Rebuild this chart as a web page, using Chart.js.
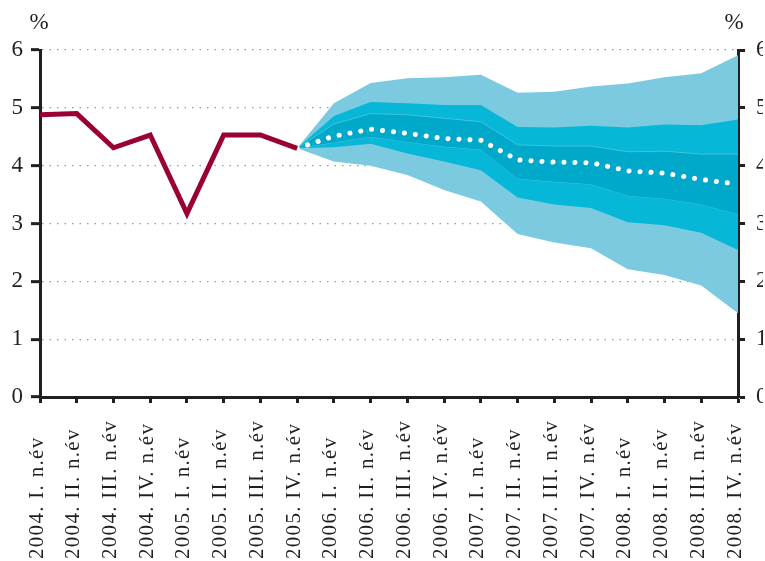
<!DOCTYPE html>
<html>
<head>
<meta charset="utf-8">
<script src="https://cdn.jsdelivr.net/npm/chart.js@4/dist/chart.umd.min.js"></script>
<style>
  html, body { margin: 0; padding: 0; background: #fff; overflow: hidden; }
  #wrap { position: relative; width: 765px; height: 561px; }
</style>
</head>
<body>
<div id="wrap"><canvas id="chart"></canvas></div>
<script>
// quarters on the x axis
const categories = [
    '2004. I. n.év', '2004. II. n.év', '2004. III. n.év', '2004. IV. n.év',
    '2005. I. n.év', '2005. II. n.év', '2005. III. n.év', '2005. IV. n.év',
    '2006. I. n.év', '2006. II. n.év', '2006. III. n.év', '2006. IV. n.év',
    '2007. I. n.év', '2007. II. n.év', '2007. III. n.év', '2007. IV. n.év',
    '2008. I. n.év', '2008. II. n.év', '2008. III. n.év', '2008. IV. n.év'
];
const yTicks = [0, 1, 2, 3, 4, 5, 6];

// actual data (%)
const actual = [4.88, 4.90, 4.31, 4.53, 3.17, 4.53, 4.53, 4.30,
    null, null, null, null, null, null, null, null, null, null, null, null];

// fan chart, starts at 2005 IV
const lead = [null, null, null, null, null, null, null];
const median      = lead.concat([4.30, 4.51, 4.63, 4.56, 4.47, 4.44, 4.10, 4.06, 4.05, 3.91, 3.87, 3.76, 3.68]);
const innerTop    = lead.concat([4.30, 4.72, 4.90, 4.88, 4.82, 4.76, 4.36, 4.34, 4.34, 4.24, 4.25, 4.20, 4.20]);
const innerBottom = lead.concat([4.30, 4.40, 4.50, 4.41, 4.33, 4.28, 3.78, 3.72, 3.68, 3.48, 3.43, 3.33, 3.16]);
const midTop      = lead.concat([4.30, 4.86, 5.10, 5.08, 5.05, 5.05, 4.67, 4.66, 4.69, 4.66, 4.71, 4.70, 4.80]);
const midBottom   = lead.concat([4.30, 4.32, 4.38, 4.21, 4.07, 3.92, 3.45, 3.33, 3.27, 3.02, 2.97, 2.84, 2.54]);
const outerTop    = lead.concat([4.30, 5.08, 5.43, 5.51, 5.53, 5.57, 5.26, 5.28, 5.37, 5.42, 5.53, 5.60, 5.91]);
const outerBottom = lead.concat([4.30, 4.07, 4.00, 3.84, 3.58, 3.38, 2.82, 2.67, 2.57, 2.21, 2.11, 1.93, 1.45]);

const INK = '#231f20';
const FONT = '"Liberation Serif", "Times New Roman", serif';

function band(data, fill, color, edge) {
    return {
        data: data,
        fill: fill,
        backgroundColor: color,
        borderColor: edge || 'rgba(0,0,0,0)',
        borderWidth: edge ? 0.8 : 0,
        pointRadius: 0,
        tension: 0
    };
}

// x labels are bottom aligned in the original, so they are drawn here
const xLabelPlugin = {
    id: 'xLabels',
    afterDraw(chart) {
        const ctx = chart.ctx;
        const xs = chart.scales.x;
        const area = chart.chartArea;
        ctx.save();
        ctx.fillStyle = INK;
        ctx.font = '21px ' + FONT;
        ctx.textBaseline = 'middle';
        ctx.textAlign = 'left';
        if ('letterSpacing' in ctx) ctx.letterSpacing = '1.3px';
        for (let i = 0; i < categories.length; i++) {
            const px = xs.getPixelForTick(i);
            ctx.save();
            ctx.translate(px - 3, chart.height - 2);
            ctx.rotate(-Math.PI / 2);
            ctx.fillText(categories[i], 0, 0);
            ctx.restore();
        }
        if ('letterSpacing' in ctx) ctx.letterSpacing = '0px';
        ctx.textAlign = 'center';
        ctx.font = '23px ' + FONT;
        ctx.fillText('%', area.left - 1, 23);
        ctx.fillText('%', area.right - 4, 23);
        ctx.restore();
    }
};

new Chart(document.getElementById('chart'), {
    type: 'line',
    data: {
        labels: categories,
        datasets: [
            {
                data: actual,
                borderColor: '#9b0033',
                borderWidth: 5,
                pointRadius: 0,
                fill: false,
                tension: 0,
                borderJoinStyle: 'miter'
            },
            {
                data: median,
                borderColor: '#ffffff',
                borderWidth: 5,
                borderDash: [0.1, 10.9],
                borderCapStyle: 'round',
                pointRadius: 0,
                fill: false,
                tension: 0
            },
            band(innerTop, '+1', '#00a8ca', 'rgba(95,200,225,0.9)'),
            band(innerBottom, false, '#00a8ca', 'rgba(95,200,225,0.9)'),
            band(midTop, '+1', '#06b7d7'),
            band(midBottom, false, '#06b7d7'),
            band(outerTop, '+1', '#7bcadf'),
            band(outerBottom, false, '#7bcadf')
        ]
    },
    options: {
        responsive: true,
        maintainAspectRatio: false,
        animation: false,
        layout: { padding: { top: 50, left: 0, right: 0, bottom: 0 } },
        plugins: {
            legend: { display: false },
            tooltip: { enabled: false }
        },
        scales: {
            x: {
                offset: false,
                grid: {
                    drawOnChartArea: false,
                    tickLength: 6,
                    tickWidth: 3,
                    tickColor: INK
                },
                border: { display: true, color: INK, width: 3 },
                ticks: {
                    autoSkip: false,
                    maxRotation: 90,
                    minRotation: 90,
                    color: 'rgba(0,0,0,0)',
                    font: { family: FONT, size: 20 }
                },
                afterFit(scale) { scale.height = 164; }
            },
            y: {
                position: 'left',
                min: 0,
                max: 6,
                afterBuildTicks(scale) { scale.ticks = yTicks.map(v => ({ value: v })); },
                grid: {
                    color: function(c) { return c.tick && c.tick.value === 0 ? 'rgba(0,0,0,0)' : '#9a9a9a'; },
                    lineWidth: 1.3,
                    tickLength: 9,
                    tickWidth: 3,
                    tickColor: INK,
                    tickBorderDash: []
                },
                border: { display: true, color: INK, width: 3, dash: [1.5, 6] },
                ticks: {
                    padding: 8,
                    color: INK,
                    font: { family: FONT, size: 23 }
                },
                afterFit(scale) { scale.width = 40; }
            },
            y2: {
                position: 'right',
                min: 0,
                max: 6,
                afterBuildTicks(scale) { scale.ticks = yTicks.map(v => ({ value: v })); },
                grid: {
                    drawOnChartArea: false,
                    tickLength: 7,
                    tickWidth: 3,
                    tickColor: INK
                },
                border: { display: true, color: INK, width: 3 },
                ticks: {
                    padding: 11,
                    color: INK,
                    font: { family: FONT, size: 23 }
                },
                afterFit(scale) { scale.width = 25; }
            }
        }
    },
    plugins: [xLabelPlugin]
});
</script>
</body>
</html>
